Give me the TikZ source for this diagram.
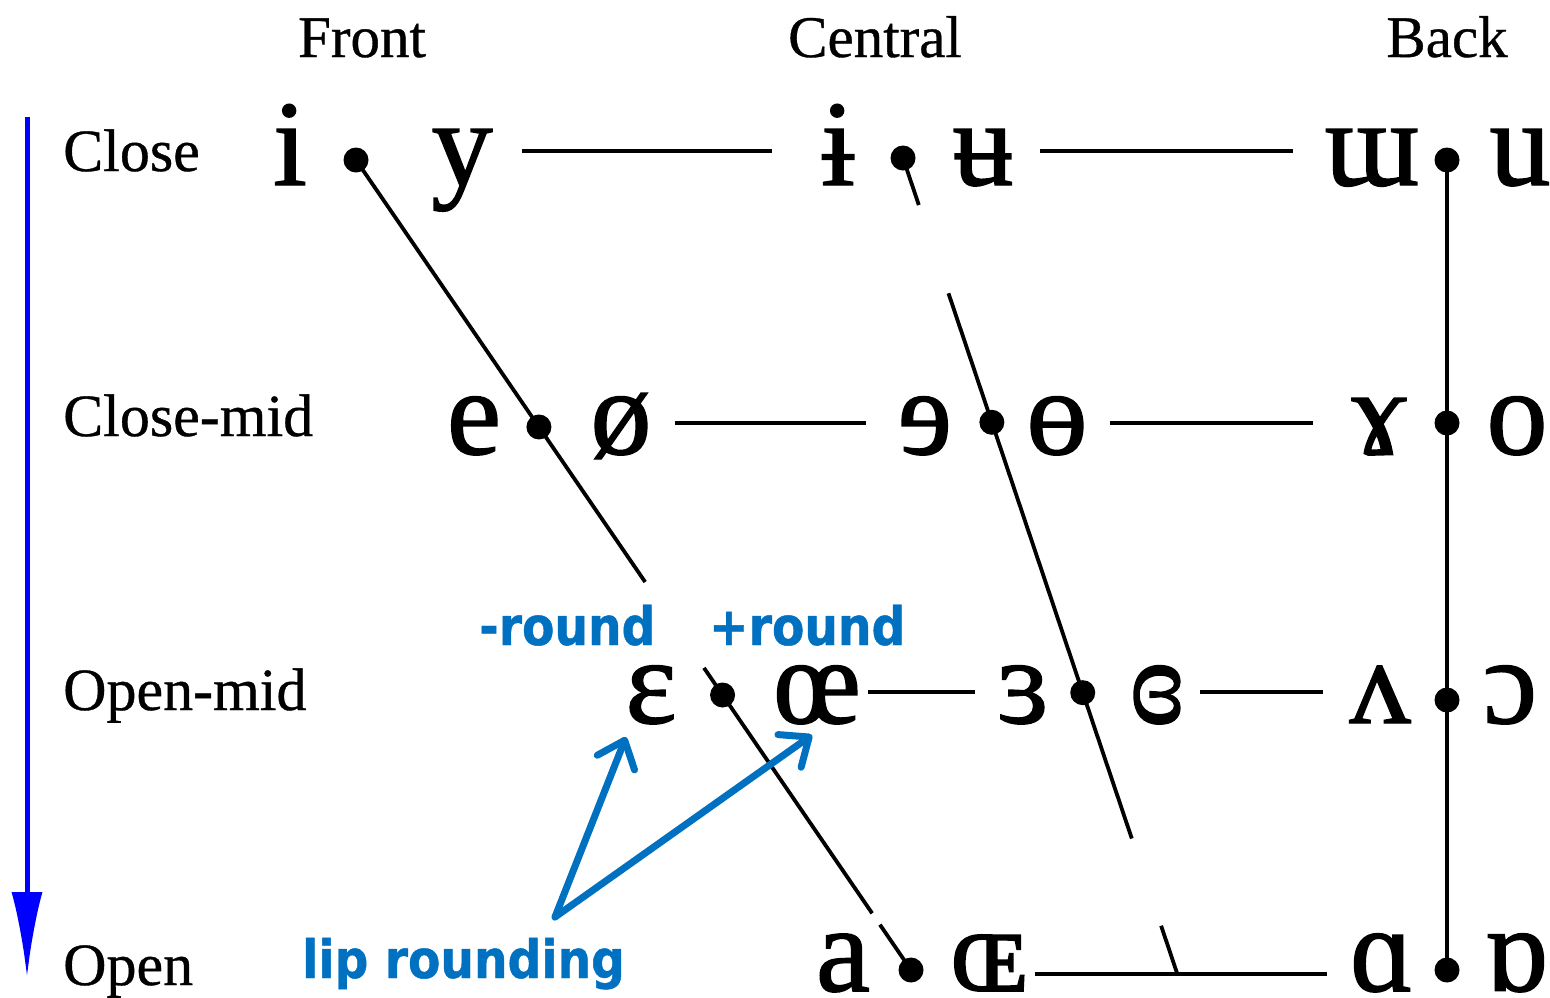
\documentclass[tikz,border=0pt]{standalone}
\usepackage{fontspec}
\setmainfont{Liberation Serif}
\newfontfamily\ipafont[FakeBold=1.2]{Liberation Serif}
\newfontfamily\labfont[FakeBold=0.6]{Liberation Serif}
\newfontfamily\bluefont[FakeStretch=0.89,FakeBold=0.8]{DejaVu Sans}
\usetikzlibrary{arrows.meta,calc}
\definecolor{annblue}{HTML}{0070C0}
\definecolor{axisblue}{HTML}{0000FF}
\begin{document}
\begin{tikzpicture}[x=1pt,y=-1pt,
  vowel/.style={inner sep=0pt, anchor=base, font=\ipafont\fontsize{122}{122}\selectfont},
  lab/.style={inner sep=0pt, anchor=base west, font=\labfont\fontsize{60}{60}\selectfont},
  head/.style={inner sep=0pt, anchor=base, font=\labfont\fontsize{59}{59}\selectfont},
  vdot/.style={circle, fill=black, minimum size=25pt, inner sep=0pt},
  chart/.style={line width=3.8pt, black},
  ann/.style={text=annblue, inner sep=0pt, anchor=base west, font={\bluefont\bfseries\fontsize{53}{53}\selectfont}},
  annarrow/.style={draw=annblue, line width=7pt, line cap=round, line join=round, -{Straight Barb[length=24pt,width=40pt,line cap=round,line join=round]}}
]
\useasboundingbox[fill=white] (0,0) rectangle (1550,997);

% headers
\node[head] (front) at (362,57) {Front};
\node[head] (central) at (875,57) {Central};
\node[head] (back) at (1447,57) {Back};

% row labels
\node[lab] (lclose) at (63,171) {Close};
\node[lab] (lclosemid) at (63,436) {Close-mid};
\node[lab] (lopenmid) at (63,710) {Open-mid};
\node[lab] (lopen) at (63,985) {Open};

% axis arrow
\coordinate (atop) at (27,117);
\coordinate (abot) at (27,977);
\draw[axisblue, line width=5pt, -{Latex[length=85pt,width=31pt]}] (atop) -- (abot);

% dots (main ends)
\node[vdot] (d1) at (356,160) {};
\node[vdot] (d10) at (911,970) {};
\node[vdot] (d2) at (903,158) {};
\coordinate (cB) at (1177,973);
\node[vdot] (d3) at (1447,160) {};
\node[vdot] (d11) at (1447,970) {};
\node[vdot] (d4) at ($(d1.center)!0.3296!(d10.center)$) {};
\node[vdot] (d7) at ($(d1.center)!0.6605!(d10.center)$) {};
\node[vdot] (d5) at ($(d2.center)!0.3243!(cB)$) {};
\node[vdot] (d8) at ($(d2.center)!0.656!(cB)$) {};
\node[vdot] (d6) at (1447,423) {};
\node[vdot] (d9) at (1447,700) {};

% front diagonal
\draw[chart] (d1.center) -- ($(d1.center)!0.521!(d10.center)$);
\draw[chart] ($(d1.center)!0.627!(d10.center)$) -- ($(d1.center)!0.930!(d10.center)$);
\draw[chart] ($(d1.center)!0.944!(d10.center)$) -- (d10.center);
% central diagonal
\draw[chart] (d2.center) -- ($(d2.center)!0.0577!(cB)$);
\draw[chart] ($(d2.center)!0.166!(cB)$) -- ($(d2.center)!0.835!(cB)$);
\draw[chart] ($(d2.center)!0.942!(cB)$) -- (cB);
% back vertical
\draw[chart, line width=3.2pt] (d3.center) -- (d11.center);

% horizontal lines
\coordinate (h1a) at (522,151); \coordinate (h1b) at (772,151);
\coordinate (h2a) at (1040,151); \coordinate (h2b) at (1293,151);
\coordinate (h3a) at (675,423); \coordinate (h3b) at (866,423);
\coordinate (h4a) at (1110,423); \coordinate (h4b) at (1313,423);
\coordinate (h5a) at (868,692); \coordinate (h5b) at (975,692);
\coordinate (h6a) at (1200,692); \coordinate (h6b) at (1323,692);
\coordinate (h7a) at (1035,974); \coordinate (h7b) at (1327,974);
\foreach \a/\b in {h1a/h1b,h2a/h2b,h3a/h3b,h4a/h4b,h5a/h5b,h6a/h6b,h7a/h7b}
  \draw[chart, line width=4pt] (\a) -- (\b);

% vowels: close
\node[vowel] (vi) at (290,185) {i};
\node[vowel] (vy) at (462,185) {y};
\node[vowel] (vbi) at (838,185) {ɨ};
\node[vowel] (vbu) at (983,185) {ʉ};
\node[vowel] (vmu) at (1372,185) {ɯ};
\node[vowel] (vu) at (1520,185) {u};
% close-mid
\node[vowel] (ve) at (474,454) {e};
\node[vowel] (voe) at (621,454) {ø};
\node[vowel] (vre) at (925,454) {ɘ};
\node[vowel] (vbo) at (1057,454) {ɵ};
\node[vowel] (vga) at (1379,454) {ɤ};
\node[vowel] (vo) at (1517,454) {o};
% open-mid
\node[vowel] (veps) at (651,723) {ɛ};
\node[vowel] (voel) at (817,723) {œ};
\node[vowel] (vrep) at (1023,723) {ɜ};
\node[vowel] (vcre) at (1157,723) {ɞ};
\node[vowel] (vwv) at (1380,723) {ʌ};
\node[vowel] (vopo) at (1510,723) {ɔ};
% open
\node[vowel] (va) at (843,991) {a};
\node[vowel] (voes) at (989,991) {ɶ};
\node[vowel] (vsa) at (1382,991) {ɑ};
\node[vowel] (vta) at (1516,991) {ɒ};

% annotations
\node[ann] (nround) at (479,645) {-round};
\node[ann] (pround) at (709,645) {+round};
\node[ann] (lip) at (302,978) {lip rounding};
\coordinate (lipsrc) at (555,917);
\coordinate (tipa) at (626,737);
\coordinate (tipb) at (812,735);
\draw[annarrow] (lipsrc) -- (tipa);
\draw[annarrow] (lipsrc) -- (tipb);
\end{tikzpicture}
\end{document}
